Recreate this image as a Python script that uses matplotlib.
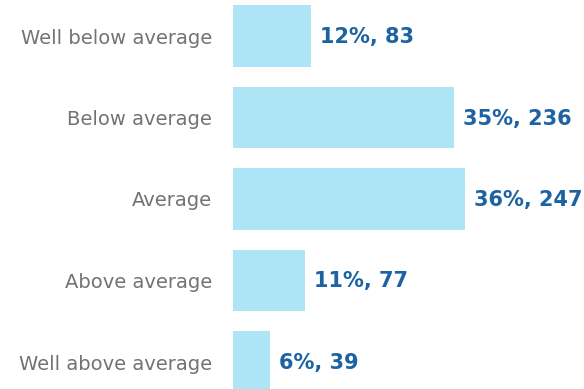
import matplotlib
matplotlib.use("Agg")
import matplotlib.pyplot as plt

categories = ["Well below average", "Below average", "Average", "Above average", "Well above average"]
percents = [12, 35, 36, 11, 6]
counts = [83, 236, 247, 77, 39]

BAR_COLOR = "#ADE4F6"
VALUE_COLOR = "#1D63A3"
LABEL_COLOR = "#737373"

W, H, DPI = 584, 389, 100
fig = plt.figure(figsize=(W / DPI, H / DPI), dpi=DPI)
left_px = 233
ax = fig.add_axes([left_px / W, 0, 1 - left_px / W, 1])

px_per_unit = 0.938
ax.set_xlim(0, (W - left_px) / px_per_unit)
row_px = 81.5
first_center = 36
ax.set_ylim((H - first_center) / row_px, -first_center / row_px)

ypos = list(range(len(categories)))
ax.barh(ypos, counts, height=0.75, color=BAR_COLOR, edgecolor="none")

for y, p, c in zip(ypos, percents, counts):
    ax.annotate(f"{p}%, {c}", xy=(c, y), xytext=(9, -1), textcoords="offset pixels",
                va="center", ha="left", fontsize=15, fontweight="bold",
                color=VALUE_COLOR, family="DejaVu Sans")

ax.set_yticks(ypos)
ax.set_yticklabels(categories, fontsize=14, color=LABEL_COLOR, family="DejaVu Sans")
ax.tick_params(axis="y", length=0, pad=15)
ax.set_xticks([])
for s in ax.spines.values():
    s.set_visible(False)

fig.savefig("out.png", dpi=DPI)
